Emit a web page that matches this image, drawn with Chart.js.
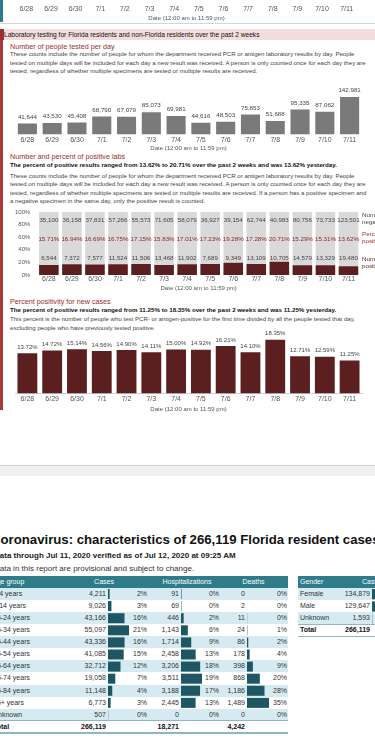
<!DOCTYPE html>
<html>
<head>
<meta charset="utf-8">
<script src="https://cdn.jsdelivr.net/npm/chart.js@4.4.1/dist/chart.umd.min.js"></script>
<style>
  html, body { margin: 0; padding: 0; }
  body { width: 375px; height: 750px; overflow: hidden; position: relative; background: #fff;
         font-family: 'Liberation Sans', Arial, sans-serif; color: #333; }
  .t { position: absolute; white-space: nowrap; }
  canvas { position: absolute; }
  .sec { color: #9b2d2d; font-size: 7.2px; line-height: 9px; }
  .desc { color: #444; font-size: 6.1px; line-height: 8.5px; }
  .bold { color: #111; font-size: 6.2px; font-weight: bold; line-height: 8px; }
  .cell { position: absolute; white-space: nowrap; font-size: 7px; line-height: 12px; color: #333; }
</style>
</head>
<body>

<!-- leftovers of the chart above -->
<div style="position:absolute;left:0;top:0;width:3px;height:22px;background:#2e7b8a"></div>
<div style="position:absolute;left:0;top:23px;width:375px;height:1px;background:#d6d6d6"></div>
<canvas id="prevChart" width="375" height="62" style="left:0;top:-40px"></canvas>

<!-- lab testing band -->
<div style="position:absolute;left:0;top:29px;width:375px;height:11px;background:#f2dcdc"></div>
<div style="position:absolute;left:0;top:29px;width:4px;height:11px;background:#9c2f2f"></div>
<div class="t" style="left:4px;top:29px;font-size:6.6px;line-height:11px;color:#111">Laboratory testing for Florida residents and non-Florida residents over the past 2 weeks</div>
<div style="position:absolute;left:0;top:40px;width:3px;height:370px;background:#a83a3a"></div>

<!-- section 1 -->
<div class="t sec" style="left:10px;top:41.5px">Number of people tested per day</div>
<div class="t desc" style="left:10px;top:50.1px">These counts include the number of people for whom the department received PCR or antigen laboratory results by day. People<br>tested on multiple days will be included for each day a new result was received. A person is only counted once for each day they are<br>tested, regardless of whether multiple specimens are tested or multiple results are received.</div>
<canvas id="testedChart" width="375" height="67" style="left:0;top:85px"></canvas>

<!-- section 2 -->
<div class="t sec" style="left:10px;top:152.2px">Number and percent of positive labs</div>
<div class="t bold" style="left:10px;top:161px">The percent of positive results ranged from 13.62% to 20.71% over the past 2 weeks and was 13.62% yesterday.</div>
<div class="t desc" style="left:10px;top:171.7px">These counts include the number of people for whom the department received PCR or antigen laboratory results by day. People<br>tested on multiple days will be included for each day a new result was received. A person is only counted once for each day they are<br>tested, regardless of whether multiple specimens are tested or multiple results are received. If a person has a positive specimen and<br>a negative specimen in the same day, only the positive result is counted.</div>
<canvas id="labsChart" width="375" height="91" style="left:0;top:201px"></canvas>
<div class="t" style="left:362px;top:212px;font-size:6.2px;line-height:6.6px;color:#444">Number of<br>negative</div>
<div class="t" style="left:362px;top:231px;font-size:6.2px;line-height:6.6px;color:#9b2d2d">Percent<br>positive</div>
<div class="t" style="left:362px;top:256px;font-size:6.2px;line-height:6.6px;color:#5c1f1f">Number of<br>positive</div>

<!-- section 3 -->
<div class="t sec" style="left:10px;top:297.2px">Percent positivity for new cases</div>
<div class="t bold" style="left:10px;top:306px">The percent of positive results ranged from 11.25% to 18.35% over the past 2 weeks and was 11.25% yesterday.</div>
<div class="t desc" style="left:10px;top:315px">This percent is the number of people who test PCR- or antigen-positive for the first time divided by all the people tested that day,<br>excluding people who have previously tested positive.</div>
<canvas id="newCaseChart" width="375" height="90" style="left:0;top:323px"></canvas>

<!-- page break -->
<div style="position:absolute;left:0;top:465px;width:375px;height:1px;background:#cfcfcf"></div>
<div style="position:absolute;left:0;top:466px;width:375px;height:10px;background:#f0f0f0"></div>

<!-- case characteristics -->
<div class="t" style="left:-9px;top:531.5px;font-size:13.2px;line-height:15px;font-weight:bold;color:#111">Coronavirus: characteristics of 266,119 Florida resident cases</div>
<div class="t" style="left:-6px;top:550.5px;font-size:8px;line-height:9px;font-weight:bold;color:#222">Data through Jul 11, 2020 verified as of Jul 12, 2020 at 09:25 AM</div>
<div class="t" style="left:-6px;top:563.5px;font-size:8px;line-height:9px;color:#333">Data in this report are provisional and subject to change.</div>
<div id="ageTable"></div>
<div id="genderTable"></div>
<canvas id="casesBars" width="26" height="133" style="left:108px;top:587.7px"></canvas>
<canvas id="hospBars" width="26" height="133" style="left:181px;top:587.7px"></canvas>
<canvas id="deathBars" width="26" height="133" style="left:247px;top:587.7px"></canvas>
<canvas id="genderBars" width="26" height="37" style="left:372px;top:587.7px"></canvas>

<script>
// ---------- data ----------
const dates = ["6/28", "6/29", "6/30", "7/1", "7/2", "7/3", "7/4", "7/5", "7/6", "7/7", "7/8", "7/9", "7/10", "7/11"];
const peopleTested = [41644, 43530, 45408, 68790, 67079, 85073, 69981, 44616, 48503, 75853, 51688, 95335, 87062, 142981];
const negativeLabs = [35100, 36158, 37831, 57266, 55573, 71605, 58079, 36927, 39154, 62744, 40983, 80756, 73733, 123501];
const positiveLabs = [6544, 7372, 7577, 11524, 11506, 13468, 11902, 7689, 9349, 13109, 10705, 14579, 13329, 19480];
const percentPositive = [15.71, 16.94, 16.69, 16.75, 17.15, 15.83, 17.01, 17.23, 19.28, 17.28, 20.71, 15.29, 15.31, 13.62];
const newCasePositivity = [13.72, 14.72, 15.14, 14.56, 14.90, 14.11, 15.00, 14.92, 16.21, 14.10, 18.35, 12.71, 12.59, 11.25];
const percentTicks = [0, 20, 40, 60, 80, 100];

const ageGroups = ["0-4 years", "5-14 years", "15-24 years", "25-34 years", "35-44 years", "45-54 years", "55-64 years", "65-74 years", "75-84 years", "85+ years", "Unknown"];
const ageCases = [4211, 9026, 43166, 55097, 43336, 41085, 32712, 19058, 11148, 6773, 507];
const ageCasesPct = [2, 3, 16, 21, 16, 15, 12, 7, 4, 3, 0];
const ageHosp = [91, 69, 446, 1143, 1714, 2458, 3206, 3511, 3188, 2445, 0];
const ageHospPct = [0, 0, 2, 6, 9, 13, 18, 19, 17, 13, 0];
const ageDeaths = [0, 2, 11, 24, 86, 178, 398, 868, 1186, 1489, 0];
const ageDeathsPct = [0, 0, 0, 1, 2, 4, 9, 20, 28, 35, 0];
const ageTotals = [266119, 18271, 4242];

const genders = ["Female", "Male", "Unknown"];
const genderCases = [134879, 129647, 1593];
const genderTotal = 266119;

// ---------- common ----------
Chart.defaults.font.family = "'Liberation Sans', Arial, sans-serif";
Chart.defaults.animation = false;
Chart.defaults.devicePixelRatio = 1;
Chart.defaults.plugins.legend.display = false;
Chart.defaults.plugins.tooltip.enabled = false;

const MAROON = "#5c1f1f";
const fmtNum = v => v.toLocaleString("en-US");
const fmtPct = v => v.toFixed(2) + "%";

// text rows drawn over / above the bars (inline plugin, one per chart)
function valueLabels(rows) {
  return {
    id: "valueLabels",
    afterDatasetsDraw(chart) {
      const ctx = chart.ctx;
      const bars = chart.getDatasetMeta(0).data;
      ctx.save();
      ctx.textAlign = "center";
      ctx.textBaseline = "middle";
      rows.forEach(r => {
        ctx.font = r.size + "px 'Liberation Sans', Arial, sans-serif";
        ctx.fillStyle = r.color;
        bars.forEach((bar, i) => {
          const y = r.at !== undefined ? chart.scales.y.getPixelForValue(r.at) : bar.y - r.above;
          ctx.fillText(r.fmt(r.values[i]), bar.x, y);
        });
      });
      ctx.restore();
    }
  };
}

function dateAxis(tickPad, titlePad, showBorder) {
  return {
    grid: { display: false, drawTicks: false },
    border: { display: showBorder, color: "#cfcfcf" },
    ticks: { color: "#555", font: { size: 7 }, padding: tickPad, maxRotation: 0, autoSkip: false },
    title: { display: true, text: "Date (12:00 am to 11:59 pm)", color: "#555", font: { size: 6 }, padding: { top: titlePad, bottom: 0 } }
  };
}

// ---------- axis of the chart above (cut off) ----------
new Chart(document.getElementById("prevChart"), {
  type: "bar",
  data: { labels: dates, datasets: [{ data: [] }] },
  options: {
    responsive: false,
    layout: { padding: { left: 14, right: 16, top: 0, bottom: 0 } },
    scales: { x: dateAxis(1, 1, false), y: { display: false, min: 0, max: 1 } }
  }
});

// ---------- people tested ----------
new Chart(document.getElementById("testedChart"), {
  type: "bar",
  data: {
    labels: dates,
    datasets: [{ data: peopleTested, backgroundColor: "#7a7a7a", categoryPercentage: 1, barPercentage: 0.77 }]
  },
  options: {
    responsive: false,
    layout: { padding: { left: 15, right: 13, top: 12, bottom: 0 } },
    scales: { x: dateAxis(1, 0, false), y: { display: false, min: 0, max: 142981 } }
  },
  plugins: [valueLabels([{ values: peopleTested, fmt: fmtNum, size: 6.2, color: "#444", above: 6.5 }])]
});

// ---------- positive labs (100% stacked) ----------
new Chart(document.getElementById("labsChart"), {
  type: "bar",
  data: {
    labels: dates,
    datasets: [
      { data: percentPositive, backgroundColor: MAROON, categoryPercentage: 1, barPercentage: 0.85 },
      { data: percentPositive.map(p => 100 - p), backgroundColor: "#d9d9d9", categoryPercentage: 1, barPercentage: 0.85 }
    ]
  },
  options: {
    responsive: false,
    layout: { padding: { left: 8, right: 15, top: 11, bottom: 0 } },
    scales: {
      x: Object.assign(dateAxis(0, 1.5, false), { stacked: true }),
      y: {
        stacked: true, min: 0, max: 100,
        grid: { display: false, drawTicks: false },
        border: { display: false },
        afterBuildTicks: axis => { axis.ticks = percentTicks.map(v => ({ value: v })); },
        ticks: { color: "#555", font: { size: 6 }, padding: 7, callback: v => v + "%" }
      }
    }
  },
  plugins: [valueLabels([
    { values: negativeLabs, fmt: fmtNum, size: 6.2, color: "#444", at: 86.9 },
    { values: percentPositive, fmt: fmtPct, size: 6.2, color: "#8b2525", at: 56.7 },
    { values: positiveLabs, fmt: fmtNum, size: 6.2, color: "#444", at: 26 }
  ])]
});

// ---------- new case positivity ----------
new Chart(document.getElementById("newCaseChart"), {
  type: "bar",
  data: {
    labels: dates,
    datasets: [{ data: newCasePositivity, backgroundColor: MAROON, categoryPercentage: 1, barPercentage: 0.8 }]
  },
  options: {
    responsive: false,
    layout: { padding: { left: 15, right: 13, top: 12, bottom: 0 } },
    scales: { x: dateAxis(1, 2, true), y: { display: false, min: 0, max: 20 } }
  },
  plugins: [valueLabels([{ values: newCasePositivity, fmt: fmtPct, size: 6, color: "#444", above: 6 }])]
});

// ---------- tables ----------
const ROW_H = 12.1;
const TOP_ROW = 587.7;
const HEAD_TOP = 575.5;
const LIGHT = "#d6ebf1";
const TEAL = "#2e7b8a";

function box(parent, left, top, width, height, bg) {
  const d = document.createElement("div");
  d.style.cssText = `position:absolute;left:${left}px;top:${top}px;width:${width}px;height:${height}px;background:${bg}`;
  parent.appendChild(d);
}
function cell(parent, text, x, top, align, extra) {
  const d = document.createElement("div");
  d.className = "cell";
  d.textContent = text;
  d.style.top = top + "px";
  if (align === "right") d.style.right = (375 - x) + "px";
  else if (align === "center") { d.style.left = (x - 40) + "px"; d.style.width = "80px"; d.style.textAlign = "center"; }
  else d.style.left = x + "px";
  if (extra) d.style.cssText += extra;
  parent.appendChild(d);
}

const ageTable = document.getElementById("ageTable");
box(ageTable, 0, HEAD_TOP, 288, TOP_ROW - HEAD_TOP, TEAL);
cell(ageTable, "Age group", -8, HEAD_TOP, "left", "color:#fff");
cell(ageTable, "Cases", 104, HEAD_TOP, "center", "color:#fff");
cell(ageTable, "Hospitalizations", 187, HEAD_TOP, "center", "color:#fff");
cell(ageTable, "Deaths", 253.5, HEAD_TOP, "center", "color:#fff");
ageGroups.forEach((g, i) => {
  const y = TOP_ROW + i * ROW_H;
  if (i % 2 === 0) box(ageTable, 0, y, 288, ROW_H, LIGHT);
  cell(ageTable, g, -7, y, "left");
  cell(ageTable, fmtNum(ageCases[i]), 106, y, "right");
  cell(ageTable, ageCasesPct[i] + "%", 147, y, "right");
  cell(ageTable, fmtNum(ageHosp[i]), 179, y, "right");
  cell(ageTable, ageHospPct[i] + "%", 219, y, "right");
  cell(ageTable, fmtNum(ageDeaths[i]), 245, y, "right");
  cell(ageTable, ageDeathsPct[i] + "%", 287, y, "right");
});
const totalY = TOP_ROW + ageGroups.length * ROW_H;
box(ageTable, 0, totalY - 0.5, 288, 1.2, "#8fb7c2");
box(ageTable, 0, totalY + ROW_H - 0.5, 288, 1.5, "#8fb7c2");
cell(ageTable, "Total", -7, totalY, "left", "font-weight:bold;color:#111");
cell(ageTable, fmtNum(ageTotals[0]), 106, totalY, "right", "font-weight:bold;color:#111");
cell(ageTable, fmtNum(ageTotals[1]), 179, totalY, "right", "font-weight:bold;color:#111");
cell(ageTable, fmtNum(ageTotals[2]), 245, totalY, "right", "font-weight:bold;color:#111");

const genderTable = document.getElementById("genderTable");
box(genderTable, 298, HEAD_TOP, 80, TOP_ROW - HEAD_TOP, TEAL);
cell(genderTable, "Gender", 300, HEAD_TOP, "left", "color:#fff");
cell(genderTable, "Cases", 362, HEAD_TOP, "left", "color:#fff");
genders.forEach((g, i) => {
  const y = TOP_ROW + i * ROW_H;
  if (i % 2 === 0) box(genderTable, 298, y, 80, ROW_H, LIGHT);
  cell(genderTable, g, 300, y, "left");
  cell(genderTable, fmtNum(genderCases[i]), 370, y, "right");
});
const gTotalY = TOP_ROW + genders.length * ROW_H;
box(genderTable, 298, gTotalY - 0.5, 80, 1.2, "#8fb7c2");
box(genderTable, 298, gTotalY + ROW_H - 0.5, 80, 1.5, "#8fb7c2");
cell(genderTable, "Total", 300, gTotalY, "left", "font-weight:bold;color:#111");
cell(genderTable, fmtNum(genderTotal), 370, gTotalY, "right", "font-weight:bold;color:#111");

// in-cell bars
function cellBars(id, labels, values, max) {
  new Chart(document.getElementById(id), {
    type: "bar",
    data: { labels: labels, datasets: [{ data: values, backgroundColor: "#1e5763", categoryPercentage: 1, barPercentage: 0.83 }] },
    options: {
      indexAxis: "y",
      responsive: false,
      layout: { padding: 0 },
      scales: { x: { display: false, min: 0, max: max }, y: { display: false } }
    }
  });
}
cellBars("casesBars", ageGroups, ageCases, 68000);
cellBars("hospBars", ageGroups, ageHosp, 4350);
cellBars("deathBars", ageGroups, ageDeaths, 1760);
cellBars("genderBars", genders, genderCases, 166000);
</script>
</body>
</html>
